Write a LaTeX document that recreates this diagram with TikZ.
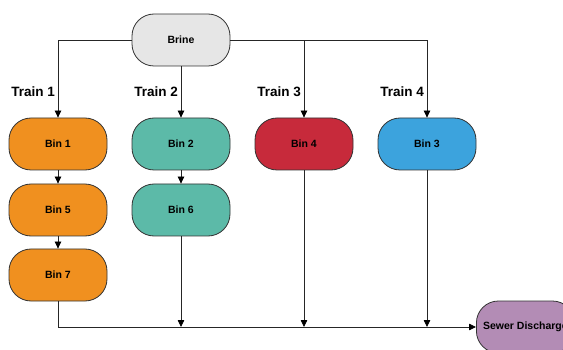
\documentclass[tikz,border=0pt]{standalone}
\usepackage{fontspec}
\setmainfont{Liberation Sans}
\usetikzlibrary{arrows.meta}
\definecolor{bingray}{HTML}{E6E6E6}
\definecolor{binorange}{HTML}{F0901F}
\definecolor{binteal}{HTML}{5CBAA8}
\definecolor{binred}{HTML}{C72A3B}
\definecolor{binblue}{HTML}{3CA3DD}
\definecolor{binpurple}{HTML}{B38CB5}
\tikzstyle{bin-node}=[draw=black!80,line width=0.8pt,rounded corners=22pt,minimum width=98pt,minimum height=52pt,font=\fontsize{10.5}{12}\selectfont\bfseries,inner sep=0pt]
\tikzstyle{train-label}=[anchor=south east,font=\fontsize{13.5}{15}\selectfont\bfseries,inner sep=1pt]
\tikzstyle{black-line}=[draw=black!85,line width=0.8pt]

\begin{document}
\begin{tikzpicture}[x=1pt,y=-1pt]
	\useasboundingbox (0,0) rectangle (563,350);
	\clip (0,0) rectangle (563,350);
	\begin{scope}
	\node (brine)[bin-node,fill=bingray] at (181,40) {Brine};
	
	\node (b1)[bin-node,fill=binorange] at (58,144) {Bin 1};
	\node (b5)[bin-node,fill=binorange] at (58,210) {Bin 5};
	\node (b7)[bin-node,fill=binorange] at (58,275) {Bin 7};
	
	\node (b2)[bin-node,fill=binteal] at (181,144) {Bin 2};
	\node (b6)[bin-node,fill=binteal] at (181,210) {Bin 6};
	
	\node (b4)[bin-node,fill=binred] at (304,144) {Bin 4};
	\node (b3)[bin-node,fill=binblue] at (427,144) {Bin 3};
	
	\node (sewer)[bin-node,fill=binpurple,anchor=west] at (476,327) {Sewer Discharge};
	\end{scope}
	
	\begin{scope}[>={Triangle[black,length=7pt,width=6.5pt]}, every path/.style=black-line]
	\draw [->] (brine.west) -| (b1.north);
	\draw [->] (brine) -- (b2);
	\draw [->] (brine.east) -| (b4.north);
	\draw [->] (brine.east) -| (b3.north);
	\draw [->] (b1) -- (b5);
	\draw [->] (b5) -- (b7);
	\draw [->] (b2) -- (b6);
	\draw [->] (b7.south) |- (sewer.west);
	\draw [->] (b6.south) -- (b6 |- sewer.west);
	\draw [->] (b4.south) -- (b4 |- sewer.west);
	\draw [->] (b3.south) -- (b3 |- sewer.west);
	\end{scope}
	
	\begin{scope}
	\node (t1)[train-label] at (56,98) {Train 1};
	\node (t2)[train-label] at (179,98) {Train 2};
	\node (t3)[train-label] at (302,98) {Train 3};
	\node (t4)[train-label] at (425,98) {Train 4};
	\end{scope}
\end{tikzpicture}
\end{document}
